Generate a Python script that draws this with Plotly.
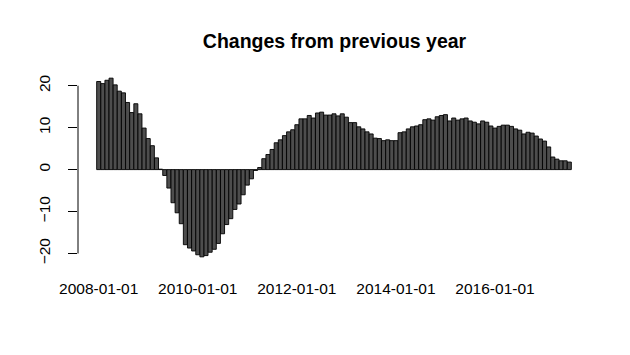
import plotly.graph_objects as go
import pandas as pd

months = pd.date_range("2008-01-01", periods=115, freq="MS").strftime("%Y-%m-%d").tolist()
changes = [
    21.0, 20.5, 21.3, 21.8, 20.2, 18.7, 18.3, 16.0, 13.6, 15.7, 13.3, 9.9,
    7.4, 5.7, 2.8, 0.1, -1.4, -4.4, -7.9, -10.3, -12.9, -17.9, -18.7, -19.4,
    -20.3, -20.8, -20.5, -19.7, -19.0, -17.6, -15.3, -13.1, -11.7, -9.5, -8.2, -6.0,
    -3.7, -2.2, -0.2, 0.5, 2.6, 3.6, 4.8, 6.4, 7.1, 8.1, 9.0, 9.5,
    10.7, 12.1, 12.1, 12.9, 12.3, 13.5, 13.7, 13.0, 13.0, 13.3, 12.8, 13.3,
    12.5, 11.2, 11.2, 10.2, 9.7, 9.0, 8.5, 7.5, 7.4, 6.9, 7.1, 6.9,
    6.9, 8.8, 9.0, 9.7, 10.2, 10.4, 10.7, 11.9, 12.1, 11.8, 12.6, 12.9,
    13.1, 11.6, 12.3, 11.8, 12.1, 12.3, 11.6, 11.3, 10.9, 11.6, 11.3, 10.4,
    9.9, 10.3, 10.6, 10.6, 10.3, 9.7, 9.4, 8.5, 8.9, 8.7, 8.0, 7.3,
    6.8, 5.4, 3.0, 2.5, 2.1, 2.1, 1.8,
]
label_months = ["2008-01-01", "2010-01-01", "2012-01-01", "2014-01-01", "2016-01-01"]
y_ticks = [-20, -10, 0, 10, 20]

# R barplot geometry: width 1, space 0.2
xpos = [0.7 + 1.2 * i for i in range(len(changes))]
tickpos = [xpos[months.index(m)] for m in label_months]

lo, hi = 0.2, 0.2 + 1.2 * (len(changes) - 1) + 1
ext = 0.04 * (hi - lo)
ymin, ymax = min(changes), max(changes)
yext = 0.04 * (ymax - ymin)

fig = go.Figure(go.Bar(
    x=xpos, y=changes, width=1.17,
    marker=dict(color="#4D4D4D", line=dict(color="black", width=0.9)),
    hovertext=months,
))

fig.update_layout(
    width=630, height=355,
    margin=dict(l=78, r=40, t=71, b=91),
    paper_bgcolor="white", plot_bgcolor="white",
    showlegend=False,
    font=dict(family="Liberation Sans, Arial, sans-serif", size=15.5, color="black"),
    title=dict(text="<b>Changes from previous year</b>", x=0.531, xanchor="center",
               y=1 - 41.5 / 355, yanchor="middle", yref="container",
               font=dict(size=19.5, color="black")),
    xaxis=dict(range=[lo - ext, hi + ext], tickvals=tickpos, ticktext=label_months,
               showgrid=False, zeroline=False, showline=False,
               ticks="outside", ticklen=10, tickcolor="rgba(0,0,0,0)"),
    yaxis=dict(range=[ymin - yext, ymax + yext], tickvals=y_ticks,
               showgrid=False, zeroline=False, showline=False,
               ticks="outside", ticklen=9, tickcolor="black", tickwidth=1,
               tickangle=-90, ticklabelstandoff=12),
    shapes=[dict(type="line", xref="paper", yref="y", x0=0, x1=0, y0=-20, y1=20,
                 line=dict(color="black", width=1))],
)

fig.write_html("out.html")
